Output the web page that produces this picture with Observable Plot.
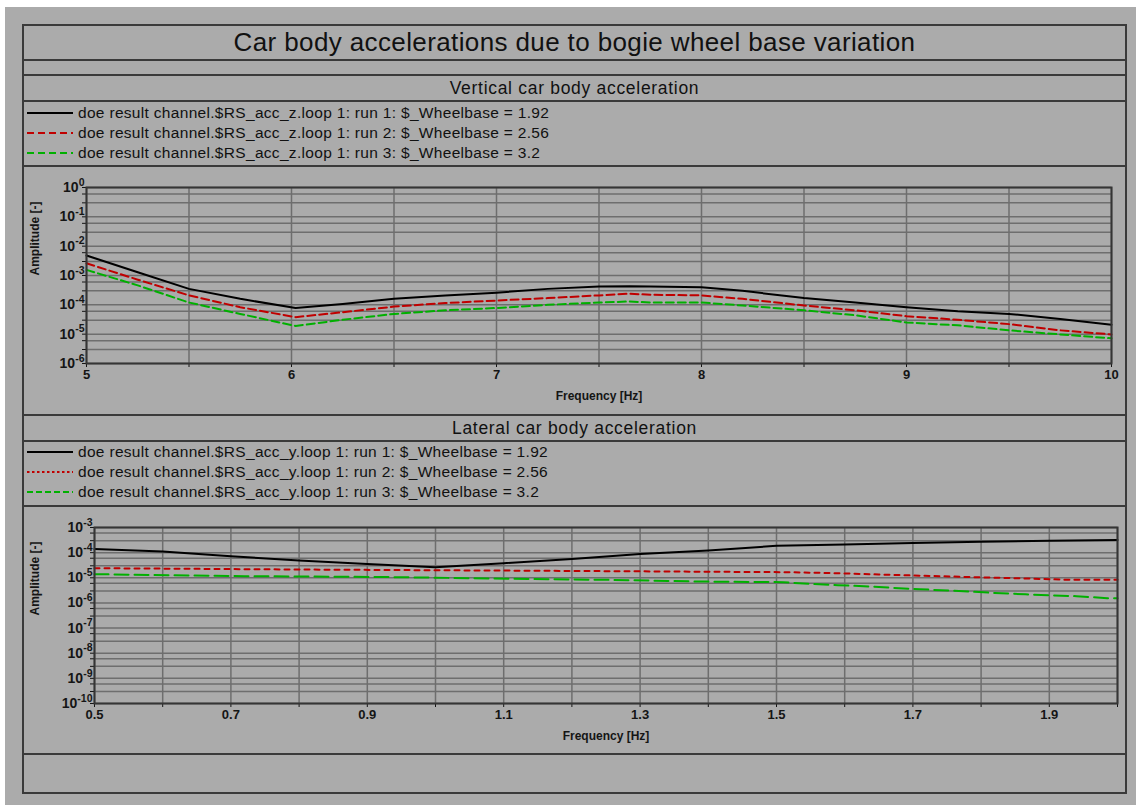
<!DOCTYPE html>
<html>
<head>
<meta charset="utf-8">
<script src="https://cdn.jsdelivr.net/npm/d3@7"></script>
<script src="https://cdn.jsdelivr.net/npm/@observablehq/plot@0.6"></script>
<style>
  body { margin: 0; background: #ffffff; font-family: "Liberation Sans", Arial, sans-serif; color: #111; }
  #bg { position: absolute; left: 5px; top: 7px; width: 1131px; height: 798px; background: #ababab; }
  .box { position: absolute; left: 22px; top: 24px; width: 1101px; height: 766px; border: 2px solid #3a3a3a; }
  .hl { position: absolute; left: 22px; width: 1105px; height: 2px; background: #3a3a3a; }
  .ctr { position: absolute; left: 22px; width: 1105px; display: flex; align-items: center; justify-content: center; white-space: nowrap; }
  .leg { position: absolute; left: 27px; height: 20px; display: flex; align-items: center; font-size: 15.5px; letter-spacing: 0.31px; white-space: nowrap; }
  .leg svg { margin-right: 5px; }
  .panel { position: absolute; left: 0; }
</style>
</head>
<body>
<div id="bg"></div>
<div class="box"></div>
<div id="root"></div>
<script>
// ---------- text ----------
const titleText = "Car body accelerations due to bogie wheel base variation";
const panelTitles = ["Vertical car body acceleration", "Lateral car body acceleration"];
const wheelbase = ["1.92", "2.56", "3.2"];
const vLegend = [
  "doe result channel.$RS_acc_z.loop 1: run 1: $_Wheelbase = 1.92",
  "doe result channel.$RS_acc_z.loop 1: run 2: $_Wheelbase = 2.56",
  "doe result channel.$RS_acc_z.loop 1: run 3: $_Wheelbase = 3.2"
];
const lLegend = [
  "doe result channel.$RS_acc_y.loop 1: run 1: $_Wheelbase = 1.92",
  "doe result channel.$RS_acc_y.loop 1: run 2: $_Wheelbase = 2.56",
  "doe result channel.$RS_acc_y.loop 1: run 3: $_Wheelbase = 3.2"
];
const xLabel = "Frequency [Hz]";
const yLabel = "Amplitude [-]";

// ---------- vertical panel data ----------
const vFreq = [5, 5.25, 5.5, 5.75, 6.02, 6.25, 6.5, 6.75, 7, 7.25, 7.5, 7.65, 7.75, 8, 8.2, 8.5, 8.75, 9, 9.25, 9.5, 9.75, 10];
const vRun1 = [4.8e-3, 1.29e-3, 3.5e-4, 1.6e-4, 7.8e-5, 1.07e-4, 1.6e-4, 2.1e-4, 2.6e-4, 3.5e-4, 4.2e-4, 4.3e-4, 4.2e-4, 4.0e-4, 3.0e-4, 1.7e-4, 1.2e-4, 8.3e-5, 6.0e-5, 4.9e-5, 3.3e-5, 2.1e-5];
const vRun2 = [2.6e-3, 7.2e-4, 2.1e-4, 8.3e-5, 3.8e-5, 5.6e-5, 8.7e-5, 1.15e-4, 1.4e-4, 1.7e-4, 2.1e-4, 2.4e-4, 2.2e-4, 2.1e-4, 1.6e-4, 9.5e-5, 6.5e-5, 4.1e-5, 3.1e-5, 2.2e-5, 1.35e-5, 9.8e-6];
const vRun3 = [1.55e-3, 4.6e-4, 1.2e-4, 4.9e-5, 1.9e-5, 3.1e-5, 4.9e-5, 6.5e-5, 7.8e-5, 1.0e-4, 1.2e-4, 1.3e-4, 1.2e-4, 1.2e-4, 9.5e-5, 6.5e-5, 4.4e-5, 2.5e-5, 2.0e-5, 1.35e-5, 9.8e-6, 7.2e-6];
const vXTicks = [5, 5.5, 6, 6.5, 7, 7.5, 8, 8.5, 9, 9.5, 10];
const vXLabels = [5, 6, 7, 8, 9, 10];
const vYDecades = [1, 1e-1, 1e-2, 1e-3, 1e-4, 1e-5, 1e-6];
const vYGrid = [1, 0.6, 0.3, 1e-1, 6e-2, 3e-2, 1e-2, 6e-3, 3e-3, 1e-3, 6e-4, 3e-4, 1e-4, 6e-5, 3e-5, 1e-5, 6e-6, 3e-6, 1e-6];

// ---------- lateral panel data ----------
const lFreq1 = [0.5, 0.6, 0.7, 0.8, 0.9, 1.0, 1.1, 1.2, 1.3, 1.4, 1.5, 1.6, 1.7, 1.8, 1.9, 2.0];
const lRun1 = [1.4e-4, 1.12e-4, 7.2e-5, 4.9e-5, 3.5e-5, 2.6e-5, 3.8e-5, 5.6e-5, 8.9e-5, 1.23e-4, 1.86e-4, 2.1e-4, 2.4e-4, 2.7e-4, 3.0e-4, 3.2e-4];
const lFreq2 = [0.5, 0.8, 1.17, 1.515, 1.59, 1.65, 1.79, 1.865, 1.93, 2.0];
const lRun2 = [2.41e-5, 2.13e-5, 1.89e-5, 1.67e-5, 1.52e-5, 1.35e-5, 1.06e-5, 9.4e-6, 8.3e-6, 8.3e-6];
const lFreq3 = [0.5, 0.72, 0.945, 1.115, 1.25, 1.39, 1.51, 1.55, 1.59, 1.635, 1.67, 1.71, 1.755, 1.82, 1.865, 1.94, 1.985, 2.0];
const lRun3 = [1.39e-5, 1.16e-5, 1.06e-5, 9.1e-6, 8.3e-6, 7.1e-6, 6.7e-6, 5.7e-6, 5.1e-6, 4.5e-6, 4.0e-6, 3.5e-6, 3.1e-6, 2.5e-6, 2.2e-6, 1.85e-6, 1.55e-6, 1.55e-6];
const lXTicks = [0.5, 0.6, 0.7, 0.8, 0.9, 1.0, 1.1, 1.2, 1.3, 1.4, 1.5, 1.6, 1.7, 1.8, 1.9, 2.0];
const lXLabels = [0.5, 0.7, 0.9, 1.1, 1.3, 1.5, 1.7, 1.9];
const lYDecades = [1e-3, 1e-4, 1e-5, 1e-6, 1e-7, 1e-8, 1e-9, 1e-10];
const lYGrid = [1e-3, 6e-4, 3e-4, 1e-4, 6e-5, 3e-5, 1e-5, 6e-6, 3e-6, 1e-6, 6e-7, 3e-7, 1e-7, 6e-8, 3e-8, 1e-8, 6e-9, 3e-9, 1e-9, 6e-10, 3e-10, 1e-10];

// ---------- styles ----------
const colors = ["#000000", "#c00000", "#00b000"];
const vDash = [null, "8,4", "8,4"];
const lDash = [null, "5,5", "14,6"];
const vLegDash = [null, "7,4", "7,4"];
const lLegDash = [null, "2.5,2.5", "6,3"];

const root = document.getElementById("root");
function el(tag, cls, css, text) {
  const e = document.createElement(tag);
  if (cls) e.className = cls;
  Object.assign(e.style, css || {});
  if (text != null) e.textContent = text;
  root.appendChild(e);
  return e;
}
// horizontal rules
[59, 74, 100, 165, 414, 440, 505, 753].forEach(y => el("div", "hl", {top: y + "px"}));
// titles
el("div", "ctr", {top: "25px", height: "35px", fontSize: "26px", letterSpacing: "0.38px"}, titleText);
el("div", "ctr", {top: "75px", height: "26px", fontSize: "17.5px", letterSpacing: "0.7px"}, panelTitles[0]);
el("div", "ctr", {top: "415px", height: "26px", fontSize: "17.5px", letterSpacing: "0.7px"}, panelTitles[1]);

function legend(labels, dashes, top0) {
  labels.forEach((t, i) => {
    const row = el("div", "leg", {top: (top0 + i * 20) + "px"});
    const ns = "http://www.w3.org/2000/svg";
    const s = document.createElementNS(ns, "svg");
    s.setAttribute("width", 46); s.setAttribute("height", 6);
    const ln = document.createElementNS(ns, "line");
    ln.setAttribute("x1", 0); ln.setAttribute("x2", 46); ln.setAttribute("y1", 3); ln.setAttribute("y2", 3);
    ln.setAttribute("stroke", colors[i]); ln.setAttribute("stroke-width", 2);
    if (dashes[i]) ln.setAttribute("stroke-dasharray", dashes[i]);
    s.appendChild(ln);
    row.appendChild(s);
    const sp = document.createElement("span"); sp.textContent = t; row.appendChild(sp);
  });
}
legend(vLegend, vLegDash, 103);
legend(lLegend, lLegDash, 442);

function supify(svg) {
  d3.select(svg).selectAll('g[aria-label="y-axis tick label"] text').each(function () {
    const s = this.textContent;
    if (!s.includes("^")) return;
    const [b, e] = s.split("^");
    const t = d3.select(this);
    t.selectAll("*").remove();
    t.text(null);
    t.append("tspan").text(b);
    t.append("tspan").attr("dy", "-0.6em").attr("font-size", "10.5px").text(e);
  });
}

function makeTable(series) {
  const rows = [];
  series.forEach(([xs, ys], i) => xs.forEach((x, j) => rows.push({f: x, a: ys[j], run: i})));
  return rows;
}

function panel(opt) {
  const data = makeTable(opt.series);
  const grid = {stroke: "#6e6e6e", strokeOpacity: 1, strokeWidth: 1.5};
  const lines = [0, 1, 2].map(i => Plot.line(data, {
    filter: d => d.run === i, x: "f", y: "a", stroke: colors[i], strokeWidth: 2,
    strokeDasharray: opt.dash[i] || undefined
  }));
  const svg = Plot.plot({
    width: 1136, height: opt.height,
    marginLeft: opt.ml, marginRight: opt.mr, marginTop: opt.mt, marginBottom: opt.mb,
    style: {background: "transparent", fontFamily: "'Liberation Sans', Arial, sans-serif", fontSize: "12.5px", color: "#151515", overflow: "visible"},
    x: {domain: opt.xDomain},
    y: {type: "log", domain: opt.yDomain},
    marks: [
      Plot.gridX(opt.xTicks, grid),
      Plot.gridY(opt.yGrid, grid),
      Plot.axisX({ticks: opt.xTicks, tickSize: 4, tickPadding: 2, label: null, fontWeight: "bold", fontSize: 13,
        tickFormat: d => opt.xLabels.some(v => Math.abs(v - d) < 1e-9) ? String(d) : ""}),
      Plot.axisY({ticks: opt.yGrid, tickSize: 4, tickFormat: () => "", label: null}),
      Plot.axisY({ticks: opt.yDecades, tickSize: 0, tickPadding: 2, label: null, fontWeight: "bold", fontSize: 14,
        tickFormat: d => "10^" + Math.round(Math.log10(d))}),
      ...lines,
      Plot.frame({stroke: "#353535", strokeWidth: 2}),
      Plot.text([xLabel], {frameAnchor: "bottom", dy: 36, text: d => d, fontWeight: "bold", fontSize: 12}),
      Plot.text([yLabel], {frameAnchor: "left", dx: opt.ylx, rotate: -90, text: d => d, fontWeight: "bold", fontSize: 12})
    ]
  });
  supify(svg);
  const wrap = el("div", "panel", {top: opt.top + "px"});
  wrap.appendChild(svg);
}

panel({
  top: 166, height: 249, ml: 86, mr: 25, mt: 21, mb: 52, ylx: -51,
  xDomain: [5, 10], yDomain: [1e-6, 1],
  xTicks: vXTicks, xLabels: vXLabels, yGrid: vYGrid, yDecades: vYDecades,
  series: [[vFreq, vRun1], [vFreq, vRun2], [vFreq, vRun3]], dash: vDash
});
panel({
  top: 506, height: 248, ml: 94, mr: 19, mt: 21, mb: 51, ylx: -59,
  xDomain: [0.5, 2.0], yDomain: [1e-10, 1e-3],
  xTicks: lXTicks, xLabels: lXLabels, yGrid: lYGrid, yDecades: lYDecades,
  series: [[lFreq1, lRun1], [lFreq2, lRun2], [lFreq3, lRun3]], dash: lDash
});
</script>
</body>
</html>
